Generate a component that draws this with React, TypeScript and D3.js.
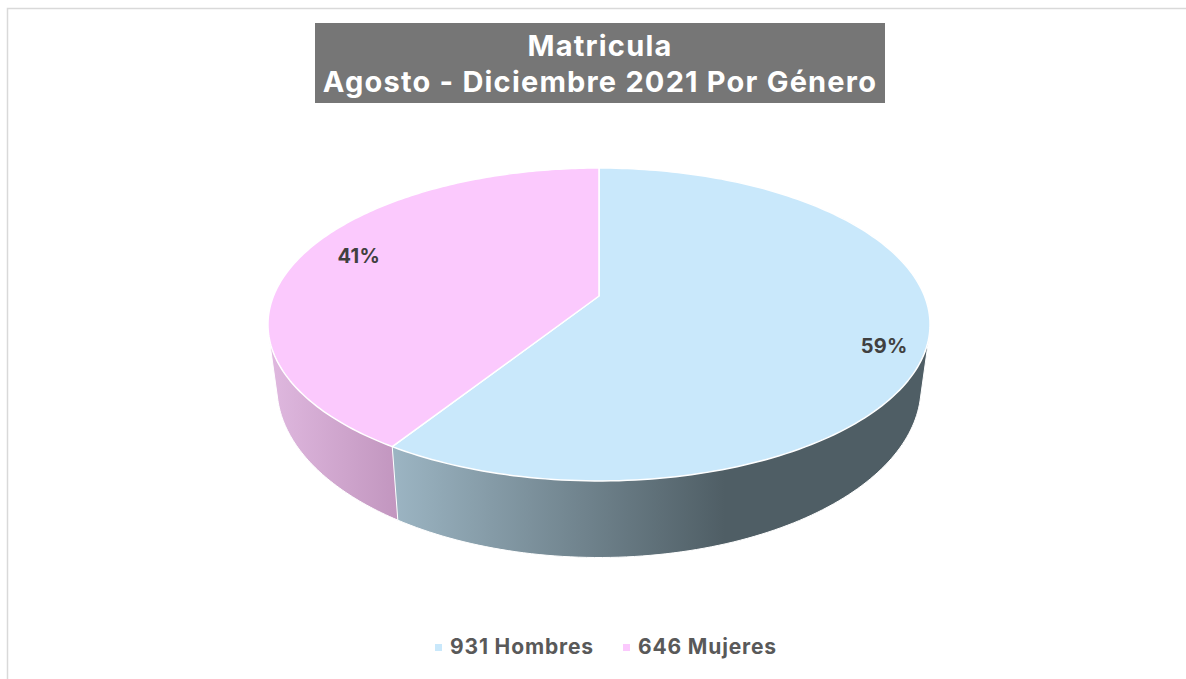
import React from 'react';
import * as d3 from 'd3';

const categories = ['Hombres', 'Mujeres'];
const values = [931, 646];
const titleLines = ['Matricula', 'Agosto - Diciembre 2021 Por Género'];
const topColours = ['#c9e8fb', '#fbc9fd'];

const WIDTH = 1186;
const HEIGHT = 679;
const FONT = 'Inter, "Open Sans", sans-serif';

// the slice tips sit above the middle of the ellipse, so the disc is a perspective projection
const cx = 599;
const apexY = 296;
const radius = 325.5;
const tiltY = 97.4;
const persp = -0.182;
const topMidY = 324.5;
const baseMidY = 387;
const baseShrinkX = 0.973;
const baseStretchY = 1.09;

const top = (a: number, r = 1): [number, number] => {
	const u = Math.sin(a) * r,
		v = -Math.cos(a) * r,
		w = 1 + persp * v;
	return [cx + (radius * u) / w, (tiltY * v + apexY) / w];
};
const base = (a: number): [number, number] => {
	const [x, y] = top(a);
	return [cx + (x - cx) * baseShrinkX, baseMidY + (y - topMidY) * baseStretchY];
};

const pie = d3
	.pie<number>()
	.value((d) => d)
	.sort(null);
const slices = pie(values);
const percent = d3.format('.0%');
const total = d3.sum(values);
const closedLine = d3.line().curve(d3.curveLinearClosed);

const sampleArc = (start: number, end: number) => d3.range(0, 181).map((i) => start + ((end - start) * i) / 180);

const topPath = (start: number, end: number) => closedLine([[cx, apexY], ...sampleArc(start, end).map((a) => top(a))]);
const wallPath = (start: number, end: number) => {
	const angles = sampleArc(start, end);
	return closedLine(d3.polygonHull([...angles.map((a) => top(a)), ...angles.map(base)]) as [number, number][]);
};

const labelRadius = [0.872, 0.8];
const labelShift = [11, -8];
const legendX = [435, 623];

const App = () => (
	<svg
		width={WIDTH}
		height={HEIGHT}
		viewBox={`0 0 ${WIDTH} ${HEIGHT}`}
		style={{ position: 'absolute', left: 0, top: 0, background: '#fff' }}
		fontFamily={FONT}
	>
		<defs>
			<linearGradient id="wall-0" gradientUnits="userSpaceOnUse" x1={392} x2={725} y1={0} y2={0}>
				<stop offset="0" stopColor="#9cb5c3" />
				<stop offset="1" stopColor="#4f5e65" />
			</linearGradient>
			<linearGradient id="wall-1" gradientUnits="userSpaceOnUse" x1={270} x2={397} y1={0} y2={0}>
				<stop offset="0" stopColor="#dfb8df" />
				<stop offset="1" stopColor="#c296bf" />
			</linearGradient>
		</defs>

		<path d={`M7.5 ${HEIGHT}V8.5H${WIDTH}`} fill="none" stroke="#d9d9d9" strokeWidth={1.5} />

		<rect x={315} y={23} width={570} height={80} fill="#767676" />
		{titleLines.map((line, i) => (
			<text
				key={line}
				x={600}
				y={56 + i * 36}
				textAnchor="middle"
				fontSize={29}
				fontWeight={700}
				letterSpacing={1.2}
				fill="#fff"
			>
				{line}
			</text>
		))}

		{[1, 0].map((i) => (
			<path
				key={categories[i]}
				d={wallPath(slices[i].startAngle, slices[i].endAngle) as string}
				fill={`url(#wall-${i})`}
				stroke="#fff"
				strokeWidth={1}
				strokeLinejoin="round"
			/>
		))}
		{slices.map((s, i) => (
			<path
				key={categories[i]}
				d={topPath(s.startAngle, s.endAngle) as string}
				fill={topColours[i]}
				stroke="#fff"
				strokeWidth={1.5}
				strokeLinejoin="round"
			/>
		))}

		{slices.map((s, i) => {
			const [x, y] = top((s.startAngle + s.endAngle) / 2, labelRadius[i]);
			return (
				<text
					key={categories[i]}
					x={x}
					y={y + labelShift[i]}
					dy="0.36em"
					textAnchor="middle"
					fontSize={20}
					fontWeight={700}
					letterSpacing={0.3}
					fill="#404040"
				>
					{percent(values[i] / total)}
				</text>
			);
		})}

		{categories.map((c, i) => (
			<g key={c}>
				<rect x={legendX[i]} y={644} width={7} height={7} fill={topColours[i]} />
				<text x={legendX[i] + 15} y={654} fontSize={21} fontWeight={700} letterSpacing={0.85} fill="#595959">
					{`${values[i]} ${c}`}
				</text>
			</g>
		))}
	</svg>
);

export default App;
